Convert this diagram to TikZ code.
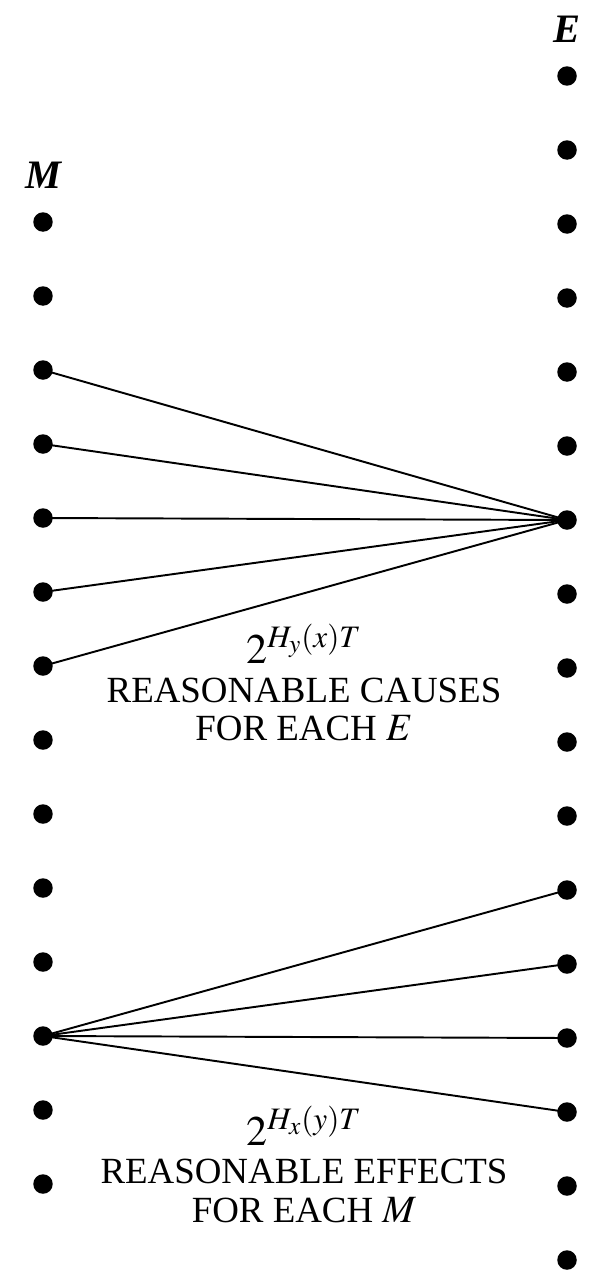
\documentclass[tikz,border=0pt]{standalone}
\usepackage{mathptmx}
\usepackage{fontspec}
\setmainfont{Liberation Serif}
\usetikzlibrary{positioning}

\begin{document}
\begin{tikzpicture}[
  x=0.02cm, y=-0.02cm,
  font=\fontsize{21}{23}\selectfont,
  dot/.style  = {circle, fill=black, inner sep=0pt, minimum size=0.39cm},
  link/.style = {black, line width=1.1pt},
  lbl/.style  = {anchor=base, inner sep=0pt},
  power/.style = {lbl, font=\fontsize{24}{26}\selectfont},
  colname/.style = {anchor=base, inner sep=0pt, font=\fontsize{23}{25}\selectfont\bfseries\itshape}
]
\useasboundingbox (0,0) rectangle (599,1271);

\foreach \i in {1,...,14}
  \node[dot] (m\i) at (43,{222+74*(\i-1)}) {};
\foreach \j in {1,...,17}
  \node[dot] (e\j) at (567,{76+74*(\j-1)}) {};

\node[colname] (mname) at (43,188) {M};
\node[colname] (ename) at (567,42) {E};

\foreach \i in {3,...,7}
  \draw[link] (e7.center) -- (m\i.center);
\foreach \j in {12,...,15}
  \draw[link] (m12.center) -- (e\j.center);

\node[power] (causes)  at (304,663) {$2^{H_y(x)T}$};
\node[lbl] (causes2) at (304,702) {REASONABLE CAUSES};
\node[lbl] (causes3) at (304,740) {FOR EACH {\fontsize{22}{24}\selectfont$E$}};

\node[power] (effects)  at (304,1145) {$2^{H_x(y)T}$};
\node[lbl] (effects2) at (304,1183) {REASONABLE EFFECTS};
\node[lbl] (effects3) at (304,1222) {FOR EACH {\fontsize{22}{24}\selectfont$M$}};
\end{tikzpicture}
\end{document}
